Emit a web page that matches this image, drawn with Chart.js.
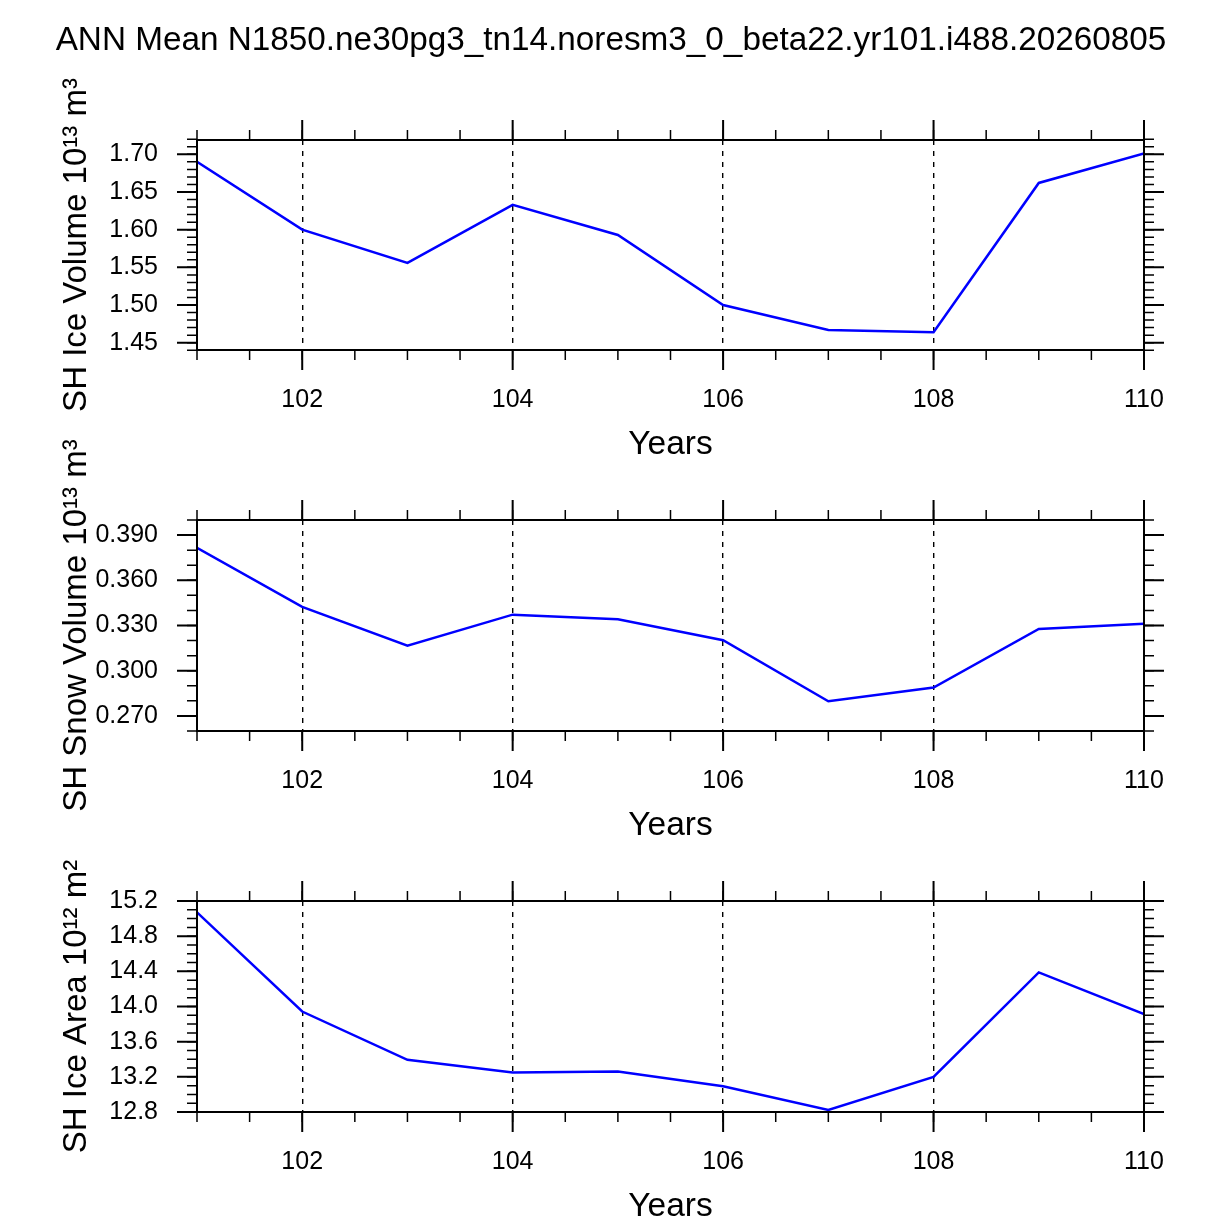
<!DOCTYPE html>
<html lang="en">
<head>
    <meta charset="UTF-8">
    <title>ANN Mean SH sea ice</title>
    <script src="https://cdn.jsdelivr.net/npm/chart.js"></script>
    <style>
        body {
            margin: 0;
            background-color: #ffffff;
            overflow: hidden;
        }
        .page {
            position: relative;
            width: 1222px;
            height: 1224px;
        }
        canvas {
            position: absolute;
            left: 0;
        }
    </style>
</head>
<body>
    <div class="page">
        <canvas id="iceVolume" width="1222" height="480" style="top:0px"></canvas>
        <canvas id="snowVolume" width="1222" height="430" style="top:430px"></canvas>
        <canvas id="iceArea" width="1222" height="404" style="top:820px"></canvas>
    </div>

    <script>
        // values (years 101-110)
        const years = [101, 102, 103, 104, 105, 106, 107, 108, 109, 110];
        const iceVolume = [1.690, 1.600, 1.556, 1.633, 1.593, 1.500, 1.467, 1.464, 1.662, 1.701];
        const snowVolume = [0.3816, 0.3423, 0.3166, 0.3372, 0.3341, 0.3202, 0.2797, 0.2888, 0.3277, 0.3312];
        const iceArea = [15.071, 13.943, 13.393, 13.248, 13.260, 13.093, 12.823, 13.199, 14.388, 13.913];

        // tick labels
        const yearTicks = [102, 104, 106, 108, 110];
        const iceVolumeTicks = [1.45, 1.50, 1.55, 1.60, 1.65, 1.70];
        const snowVolumeTicks = [0.270, 0.300, 0.330, 0.360, 0.390];
        const iceAreaTicks = [12.8, 13.2, 13.6, 14.0, 14.4, 14.8, 15.2];

        const FONT = "'Liberation Sans', Arial, Helvetica, sans-serif";
        Chart.defaults.font.family = FONT;
        Chart.defaults.color = '#000';

        const AXIS_LEFT = 197;     // width of left axis box
        const AXIS_RIGHT = 78;     // room right of the frame
        const X_AXIS_H = 111.8;    // height of bottom axis box

        // evenly spaced minor tick positions
        function steps(from, to, step) {
            const out = [];
            const n = Math.round((to - from) / step);
            for (let i = 0; i <= n; i++) out.push(+(from + i * step).toFixed(6));
            return out;
        }

        // NCL style frame with outward major/minor ticks on all four sides
        const ncFrame = {
            id: 'ncFrame',
            afterDraw(chart, args, o) {
                const { ctx, chartArea: a } = chart;
                const xs = chart.scales.x, ys = chart.scales.y;
                ctx.save();
                ctx.strokeStyle = '#000';
                ctx.lineCap = 'butt';

                const xMarks = (vals, len, w) => {
                    ctx.lineWidth = w;
                    ctx.beginPath();
                    vals.forEach(v => {
                        const px = xs.getPixelForValue(v);
                        ctx.moveTo(px, a.top); ctx.lineTo(px, a.top - len);
                        ctx.moveTo(px, a.bottom); ctx.lineTo(px, a.bottom + len);
                    });
                    ctx.stroke();
                };
                const yMarks = (vals, len, w) => {
                    ctx.lineWidth = w;
                    ctx.beginPath();
                    vals.forEach(v => {
                        if (v < ys.min - o.tol || v > ys.max + o.tol) return;
                        const py = ys.getPixelForValue(v);
                        ctx.moveTo(a.left, py); ctx.lineTo(a.left - len, py);
                        ctx.moveTo(a.right, py); ctx.lineTo(a.right + len, py);
                    });
                    ctx.stroke();
                };

                xMarks(o.xMinor, 10, 1.5);
                xMarks(o.xMajor, 20, 2);
                yMarks(o.yMinor, 10, 1.5);
                yMarks(o.yMajor, 20, 2);

                ctx.lineWidth = 2;
                ctx.strokeRect(a.left, a.top, a.right - a.left, a.bottom - a.top);
                ctx.restore();
            }
        };

        function makePanel(id, values, p) {
            return new Chart(document.getElementById(id), {
                type: 'line',
                data: {
                    datasets: [{
                        data: years.map((yr, i) => ({ x: yr, y: values[i] })),
                        borderColor: '#0000ff',
                        borderWidth: 2.5,
                        pointRadius: 0,
                        fill: false,
                        tension: 0
                    }]
                },
                options: {
                    responsive: false,
                    animation: false,
                    events: [],
                    layout: {
                        padding: { left: 0, right: 0, top: p.padTop, bottom: p.padBottom }
                    },
                    plugins: {
                        legend: { display: false },
                        tooltip: { enabled: false },
                        title: p.title || { display: false },
                        ncFrame: {
                            xMajor: yearTicks,
                            xMinor: steps(101, 110, 0.5),
                            yMajor: p.ticks,
                            yMinor: p.minor,
                            tol: p.tol
                        }
                    },
                    scales: {
                        x: {
                            type: 'linear',
                            min: 101,
                            max: 110,
                            afterBuildTicks: s => { s.ticks = yearTicks.map(v => ({ value: v })); },
                            afterFit: s => { s.height = X_AXIS_H; s.paddingLeft = 0; s.paddingRight = 0; },
                            ticks: {
                                font: { size: 25 },
                                padding: 35,
                                maxRotation: 0,
                                autoSkip: false,
                                callback: v => String(v)
                            },
                            grid: { color: '#000', lineWidth: 1.4, drawTicks: false, drawOnChartArea: true },
                            border: { display: false, dash: [5, 6] },
                            title: {
                                display: true,
                                text: 'Years',
                                font: { size: 33.5, lineHeight: 1 },
                                padding: { top: 0, bottom: 0 }
                            }
                        },
                        y: {
                            min: p.min,
                            max: p.max,
                            afterBuildTicks: s => { s.ticks = p.ticks.map(v => ({ value: v })); },
                            afterFit: s => { s.width = AXIS_LEFT; s.paddingTop = 0; s.paddingBottom = 0; },
                            ticks: {
                                font: { size: 25 },
                                padding: 39,
                                callback: v => v.toFixed(p.digits)
                            },
                            grid: { display: false, drawTicks: false },
                            border: { display: false },
                            title: {
                                display: true,
                                text: p.label,
                                font: { size: 33, lineHeight: 1 },
                                padding: { top: 60, bottom: 0 }
                            }
                        },
                        yR: {
                            position: 'right',
                            display: true,
                            afterFit: s => { s.width = AXIS_RIGHT; s.paddingTop = 0; s.paddingBottom = 0; },
                            ticks: { display: false },
                            grid: { display: false },
                            border: { display: false }
                        }
                    }
                },
                plugins: [ncFrame]
            });
        }

        makePanel('iceVolume', iceVolume, {
            label: 'SH Ice Volume 10\u00b9\u00b3 m\u00b3',
            min: 1.4403, max: 1.719, ticks: iceVolumeTicks, minor: steps(1.44, 1.72, 0.01),
            tol: 0.0011, digits: 2,
            padTop: 0, padBottom: 480 - 350 - X_AXIS_H,
            title: {
                display: true,
                text: 'ANN Mean N1850.ne30pg3_tn14.noresm3_0_beta22.yr101.i488.20260805',
                color: '#000',
                font: { size: 33.3, weight: 'normal', lineHeight: 1 },
                padding: { top: 24, bottom: 82.7 }
            }
        });

        makePanel('snowVolume', snowVolume, {
            label: 'SH Snow Volume 10\u00b9\u00b3 m\u00b3',
            min: 0.26, max: 0.40, ticks: snowVolumeTicks, minor: steps(0.26, 0.40, 0.01),
            tol: 0.0001, digits: 3,
            padTop: 90, padBottom: 430 - 301 - X_AXIS_H
        });

        makePanel('iceArea', iceArea, {
            label: 'SH Ice Area 10\u00b9\u00b2 m\u00b2',
            min: 12.8, max: 15.2, ticks: iceAreaTicks, minor: steps(12.8, 15.2, 0.1),
            tol: 0.001, digits: 1,
            padTop: 81, padBottom: 404 - 292 - X_AXIS_H
        });
    </script>
</body>
</html>
